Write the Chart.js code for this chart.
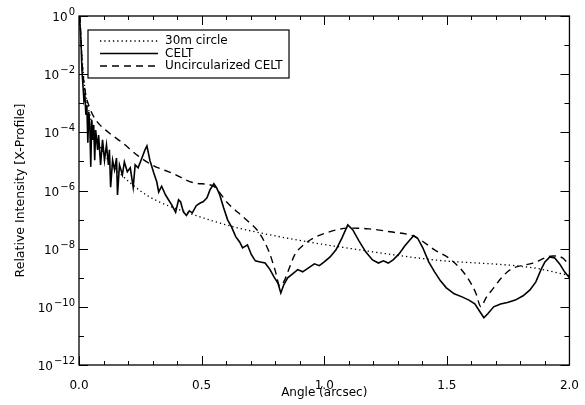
<!DOCTYPE html>
<html>
<head>
<meta charset="utf-8">
<script src="https://cdn.jsdelivr.net/npm/chart.js@4.4.0/dist/chart.umd.min.js"></script>
<style>
html, body { margin: 0; padding: 0; background: #fff; }
#wrap { width: 585px; height: 405px; }
</style>
</head>
<body>
<div id="wrap"><canvas id="chart"></canvas></div>
<script>
// 30m circle (dotted)
const circleAngle = [0.002, 0.008, 0.020, 0.044, 0.084, 0.124, 0.165, 0.245, 0.309, 0.446,
    0.618, 0.888, 1.088, 1.450, 1.851, 2.000];
const circleIntensity = [1, 1.5e-1, 6.3e-3, 4e-4, 3.7e-5, 9.6e-6, 4e-6, 1.05e-6, 4.8e-7, 1.7e-7,
    6e-8, 2e-8, 1.07e-8, 4.1e-9, 2.2e-9, 1.2e-9];

// CELT (solid)
const celtAngle = [
    0.002, 0.008, 0.012, 0.016, 0.020, 0.024, 0.028, 0.032, 0.036, 0.040,
    0.044, 0.048, 0.052, 0.056, 0.060, 0.064, 0.068, 0.076, 0.080, 0.088,
    0.096, 0.104, 0.112, 0.120, 0.124, 0.129, 0.137, 0.145, 0.153, 0.157,
    0.165, 0.177, 0.185, 0.197, 0.209, 0.221, 0.229, 0.241, 0.253, 0.269,
    0.277, 0.289, 0.305, 0.317, 0.325, 0.337, 0.353, 0.365, 0.378, 0.394,
    0.406, 0.414, 0.426, 0.438, 0.450, 0.462, 0.478, 0.494, 0.506, 0.522,
    0.534, 0.550, 0.562, 0.574, 0.590, 0.606, 0.622, 0.639, 0.655, 0.667,
    0.687, 0.703, 0.719, 0.739, 0.759, 0.779, 0.795, 0.811, 0.823, 0.835,
    0.851, 0.871, 0.892, 0.912, 0.936, 0.960, 0.980, 1.000, 1.024, 1.048,
    1.072, 1.096, 1.116, 1.141, 1.169, 1.197, 1.221, 1.241, 1.261, 1.281,
    1.305, 1.329, 1.349, 1.365, 1.382, 1.402, 1.426, 1.450, 1.474, 1.498,
    1.530, 1.562, 1.590, 1.614, 1.635, 1.651, 1.667, 1.691, 1.719, 1.747,
    1.779, 1.811, 1.839, 1.863, 1.884, 1.900, 1.920, 1.940, 1.960, 1.980,
    2.000];
const celtIntensity = [
    1, 1.5e-1, 1.4e-2, 4.3e-3, 1.3e-3, 1.9e-3, 4e-4, 8.7e-4, 4.4e-5, 5e-4,
    1.8e-4, 6.5e-6, 2.7e-4, 5.5e-5, 1.8e-4, 1.1e-5, 1.2e-4, 2.5e-5, 8e-5, 7.6e-6,
    5.5e-5, 1.1e-5, 3.7e-5, 7.6e-6, 2.5e-5, 1.3e-6, 1.1e-5, 5.1e-6, 1.3e-5, 7e-7,
    7.6e-6, 3.5e-6, 9.6e-6, 4.4e-6, 6e-6, 1.3e-6, 7.6e-6, 6e-6, 1.1e-5, 2.5e-5,
    3.4e-5, 1.1e-5, 4e-6, 2e-6, 8.9e-7, 1.4e-6, 7e-7, 4.8e-7, 3.2e-7, 1.8e-7,
    4.8e-7, 4.1e-7, 1.8e-7, 1.4e-7, 2e-7, 1.7e-7, 3e-7, 3.7e-7, 4.1e-7, 5.6e-7,
    1.05e-6, 1.7e-6, 1.2e-6, 7e-7, 2.5e-7, 9.8e-8, 5.6e-8, 2.6e-8, 1.7e-8, 1.07e-8,
    1.35e-8, 6.2e-9, 3.8e-9, 3.5e-9, 3.2e-9, 1.9e-9, 1.07e-9, 6.6e-10, 3e-10, 5.7e-10,
    1e-9, 1.35e-9, 1.9e-9, 1.6e-9, 2.2e-9, 3e-9, 2.6e-9, 3.5e-9, 5.2e-9, 9.1e-9,
    2.3e-8, 6.6e-8, 4.5e-8, 1.9e-8, 7.8e-9, 4.1e-9, 3.2e-9, 3.8e-9, 3.2e-9, 4.1e-9,
    6.6e-9, 1.25e-8, 2e-8, 2.8e-8, 2.2e-8, 1.07e-8, 3.5e-9, 1.6e-9, 7.8e-10, 4.5e-10,
    2.8e-10, 2.2e-10, 1.7e-10, 1.26e-10, 6.8e-11, 4.2e-11, 5.8e-11, 1e-10, 1.26e-10, 1.4e-10,
    1.7e-10, 2.4e-10, 3.8e-10, 7.2e-10, 1.9e-9, 3.5e-9, 5.2e-9, 4.8e-9, 3e-9, 1.6e-9,
    1e-9];

// Uncircularized CELT (dashed)
const uncircAngle = [0.004, 0.012, 0.024, 0.044, 0.068, 0.120, 0.177, 0.241, 0.297, 0.378,
    0.474, 0.546, 0.606, 0.687, 0.735, 0.775, 0.799, 0.819, 0.839, 0.855,
    0.880, 0.916, 0.956, 1.008, 1.100, 1.181, 1.269, 1.369, 1.450, 1.518,
    1.582, 1.618, 1.639, 1.659, 1.691, 1.723, 1.759, 1.851, 1.932, 1.972,
    2.000];
const uncircIntensity = [1, 3.1e-2, 2.9e-3, 6.9e-4, 2.7e-4, 1.0e-4, 4.4e-5, 1.55e-5, 7.6e-6, 4e-6,
    1.8e-6, 1.45e-6, 3.7e-7, 9.1e-8, 3.5e-8, 7.8e-9, 1.9e-9, 5.2e-10, 8.5e-10, 1.9e-9,
    6.2e-9, 1.35e-8, 2.3e-8, 3.5e-8, 5.1e-8, 4.8e-8, 3.8e-8, 2.6e-8, 9.1e-9, 4.1e-9,
    1.07e-9, 3e-10, 1e-10, 2e-10, 4.5e-10, 1e-9, 1.9e-9, 3.2e-9, 5.6e-9, 4.8e-9,
    2.6e-9];

const seriesLabels = ['30m circle', 'CELT', 'Uncircularized CELT'];
const yTickValues = [1e-12, 1e-11, 1e-10, 1e-9, 1e-8, 1e-7, 1e-6, 1e-5, 1e-4, 1e-3, 1e-2, 1e-1, 1];
const xMajorTicks = [0.0, 0.5, 1.0, 1.5, 2.0];

const FONT = "'DejaVu Sans', sans-serif";

function toPoints(xs, ys) {
    return xs.map(function (x, i) { return {x: x, y: ys[i]}; });
}

function exponentOf(v) {
    return Math.round(Math.log10(v));
}

// box, inward ticks on all four sides, and the 10^n labels
const frameTicks = {
    id: 'frameTicks',
    afterDatasetsDraw(chart) {
        const ctx = chart.ctx;
        const a = chart.chartArea;
        const xs = chart.scales.x, ys = chart.scales.y;
        ctx.save();
        ctx.strokeStyle = '#000';
        ctx.lineWidth = 1.3;
        ctx.strokeRect(a.left, a.top, a.right - a.left, a.bottom - a.top);
        ctx.lineWidth = 1;
        ctx.beginPath();
        for (let i = 0; i <= 20; i++) {
            const px = Math.round(xs.getPixelForValue(i / 10)) + 0.5;
            const len = (i % 5 === 0) ? 9 : 4;
            ctx.moveTo(px, a.bottom); ctx.lineTo(px, a.bottom - len);
            ctx.moveTo(px, a.top); ctx.lineTo(px, a.top + len);
        }
        yTickValues.forEach(function (v) {
            const py = Math.round(ys.getPixelForValue(v)) + 0.5;
            const len = exponentOf(v) % 2 === 0 ? 9 : 5;
            ctx.moveTo(a.left, py); ctx.lineTo(a.left + len, py);
            ctx.moveTo(a.right, py); ctx.lineTo(a.right - len, py);
        });
        ctx.stroke();

        ctx.fillStyle = '#000';
        ctx.textAlign = 'right';
        ctx.textBaseline = 'alphabetic';
        yTickValues.forEach(function (v) {
            const e = exponentOf(v);
            if (e % 2 !== 0) return;
            const py = ys.getPixelForValue(v);
            const expText = String(e).replace('-', '\u2212');
            ctx.font = '10px ' + FONT;
            const ew = ctx.measureText(expText).width;
            ctx.fillText(expText, a.left - 4, py - 1);
            ctx.font = '12px ' + FONT;
            ctx.fillText('10', a.left - 5 - ew, py + 5);
        });
        ctx.restore();
    }
};

// legend box in the upper left corner of the plot
const boxLegend = {
    id: 'boxLegend',
    afterDatasetsDraw(chart) {
        const ctx = chart.ctx;
        const a = chart.chartArea;
        const bx = a.left + 9, by = a.top + 14, bw = 201, bh = 48;
        ctx.save();
        ctx.fillStyle = '#fff';
        ctx.fillRect(bx, by, bw, bh);
        ctx.strokeStyle = '#000';
        ctx.lineWidth = 1.2;
        ctx.strokeRect(bx, by, bw, bh);
        ctx.font = '12px ' + FONT;
        ctx.textBaseline = 'middle';
        ctx.fillStyle = '#000';
        chart.data.datasets.forEach(function (ds, i) {
            const ly = by + 11 + i * 12.5;
            ctx.beginPath();
            ctx.setLineDash(ds.borderDash || []);
            ctx.lineWidth = ds.borderWidth;
            ctx.moveTo(bx + 12, ly);
            ctx.lineTo(bx + 70, ly);
            ctx.stroke();
            ctx.setLineDash([]);
            ctx.fillText(ds.label, bx + 77, ly);
        });
        ctx.restore();
    }
};

const ctx = document.getElementById('chart');
new Chart(ctx, {
    type: 'line',
    data: {
        datasets: [{
            label: seriesLabels[0],
            data: toPoints(circleAngle, circleIntensity),
            borderColor: '#000',
            borderWidth: 1.3,
            borderDash: [1.3, 3],
            pointRadius: 0,
            cubicInterpolationMode: 'monotone'
        }, {
            label: seriesLabels[1],
            data: toPoints(celtAngle, celtIntensity),
            borderColor: '#000',
            borderWidth: 1.6,
            pointRadius: 0,
            tension: 0
        }, {
            label: seriesLabels[2],
            data: toPoints(uncircAngle, uncircIntensity),
            borderColor: '#000',
            borderWidth: 1.4,
            borderDash: [7, 5],
            pointRadius: 0,
            cubicInterpolationMode: 'monotone'
        }]
    },
    options: {
        responsive: true,
        maintainAspectRatio: false,
        animation: false,
        layout: {
            padding: {left: 0, top: 16, right: 8, bottom: 0}
        },
        plugins: {
            legend: {display: false},
            tooltip: {enabled: false}
        },
        scales: {
            x: {
                type: 'linear',
                min: 0,
                max: 2,
                afterBuildTicks: function (scale) {
                    scale.ticks = xMajorTicks.map(function (v) { return {value: v}; });
                },
                afterFit: function (scale) { scale.height = 40; },
                grid: {display: false},
                border: {display: false},
                ticks: {
                    color: '#000',
                    font: {family: FONT, size: 12},
                    padding: 6,
                    autoSkip: false,
                    maxRotation: 0,
                    callback: function (v) { return Number(v).toFixed(1); }
                },
                title: {
                    display: true,
                    text: 'Angle (arcsec)',
                    color: '#000',
                    font: {family: FONT, size: 12},
                    padding: {top: 0, bottom: 5}
                }
            },
            y: {
                type: 'logarithmic',
                min: 1e-12,
                max: 1,
                afterBuildTicks: function (scale) {
                    scale.ticks = yTickValues.map(function (v) { return {value: v}; });
                },
                afterFit: function (scale) { scale.width = 79; },
                grid: {display: false},
                border: {display: false},
                ticks: {
                    display: false
                },
                title: {
                    display: true,
                    text: 'Relative Intensity [X-Profile]',
                    color: '#000',
                    font: {family: FONT, size: 12.5},
                    padding: {top: 13, bottom: 0}
                }
            }
        }
    },
    plugins: [frameTicks, boxLegend]
});
</script>
</body>
</html>
